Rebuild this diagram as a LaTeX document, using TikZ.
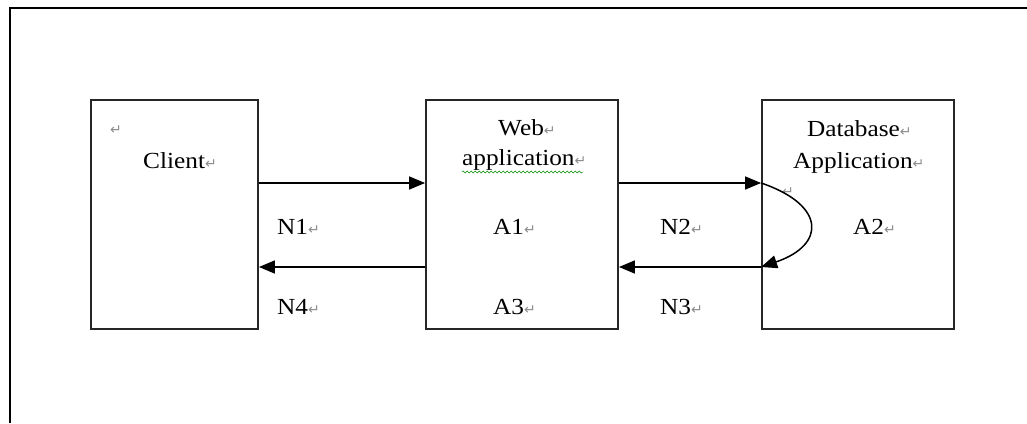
\documentclass[tikz,border=0pt]{standalone}
\usepackage{fontspec}
\setmainfont{Liberation Serif}[FakeStretch=1.1]
\newfontfamily\markfont{DejaVu Sans}
\usetikzlibrary{arrows.meta,decorations.pathmorphing}
\newcommand{\retmark}{{\markfont\color{black!45}\fontsize{14}{14}\selectfont\char"21B5}}
\tikzset{
    box/.style={draw=black!85, line width=1.8pt, inner sep=0pt,
        minimum width=192pt, minimum height=229pt},
    lbl/.style={anchor=base west, inner sep=0pt,
        font=\fontsize{23}{27}\selectfont},
    flow/.style={line width=1.5pt, -{Triangle[length=16pt,width=13pt]}}
}

\begin{document}
\begin{tikzpicture}[x=1pt, y=-1pt]
  \useasboundingbox (0,0) rectangle (1027,423);
  % frame edges
  \draw[line width=2.4pt] (10,423) -- (10,8) -- (1027,8);

  \node (client) [box, minimum width=167pt] at (174.5,214.5) {};
  \node (webapp) [box] at (522,214.5) {};
  \node (dbapp) [box] at (858,214.5) {};

  \coordinate (uprow) at (0,183);
  \coordinate (downrow) at (0,267);

  \node (m0) [lbl] at (110,134) {\retmark};
  \node (tclient) [lbl] at (143,168) {Client\retmark};
  \node (tweb) [lbl] at (498,135) {Web\retmark};
  \node (tapp) [lbl] at (462,165) {application\retmark};
  \node (tdb) [lbl] at (807,136) {Database\retmark};
  \node (tdbapp) [lbl] at (793,168) {Application\retmark};
  \node (m1) [lbl] at (782,196) {\retmark};

  \node (N1) [lbl] at (277,234) {N1\retmark};
  \node (A1) [lbl] at (493,234) {A1\retmark};
  \node (N2) [lbl] at (660,234) {N2\retmark};
  \node (A2) [lbl] at (853,234) {A2\retmark};
  \node (N4) [lbl] at (277,314) {N4\retmark};
  \node (A3) [lbl] at (493,314) {A3\retmark};
  \node (N3) [lbl] at (660,314) {N3\retmark};

  % spelling squiggle
  \draw[green!55!black, line width=0.5pt, decorate,
        decoration={snake, amplitude=1pt, segment length=4pt}]
        (tapp.base west) ++(0,7) -- ++(121,0);

  \draw[flow] (client.east |- uprow) -- (webapp.west |- uprow);
  \draw[flow] (webapp.east |- uprow) -- (dbapp.west |- uprow);
  \draw[flow] (dbapp.west |- uprow) .. controls (826,205) and (826,245) .. (dbapp.west |- downrow);
  \draw[flow] (dbapp.west |- downrow) -- (webapp.east |- downrow);
  \draw[flow] (webapp.west |- downrow) -- (client.east |- downrow);
\end{tikzpicture}
\end{document}
